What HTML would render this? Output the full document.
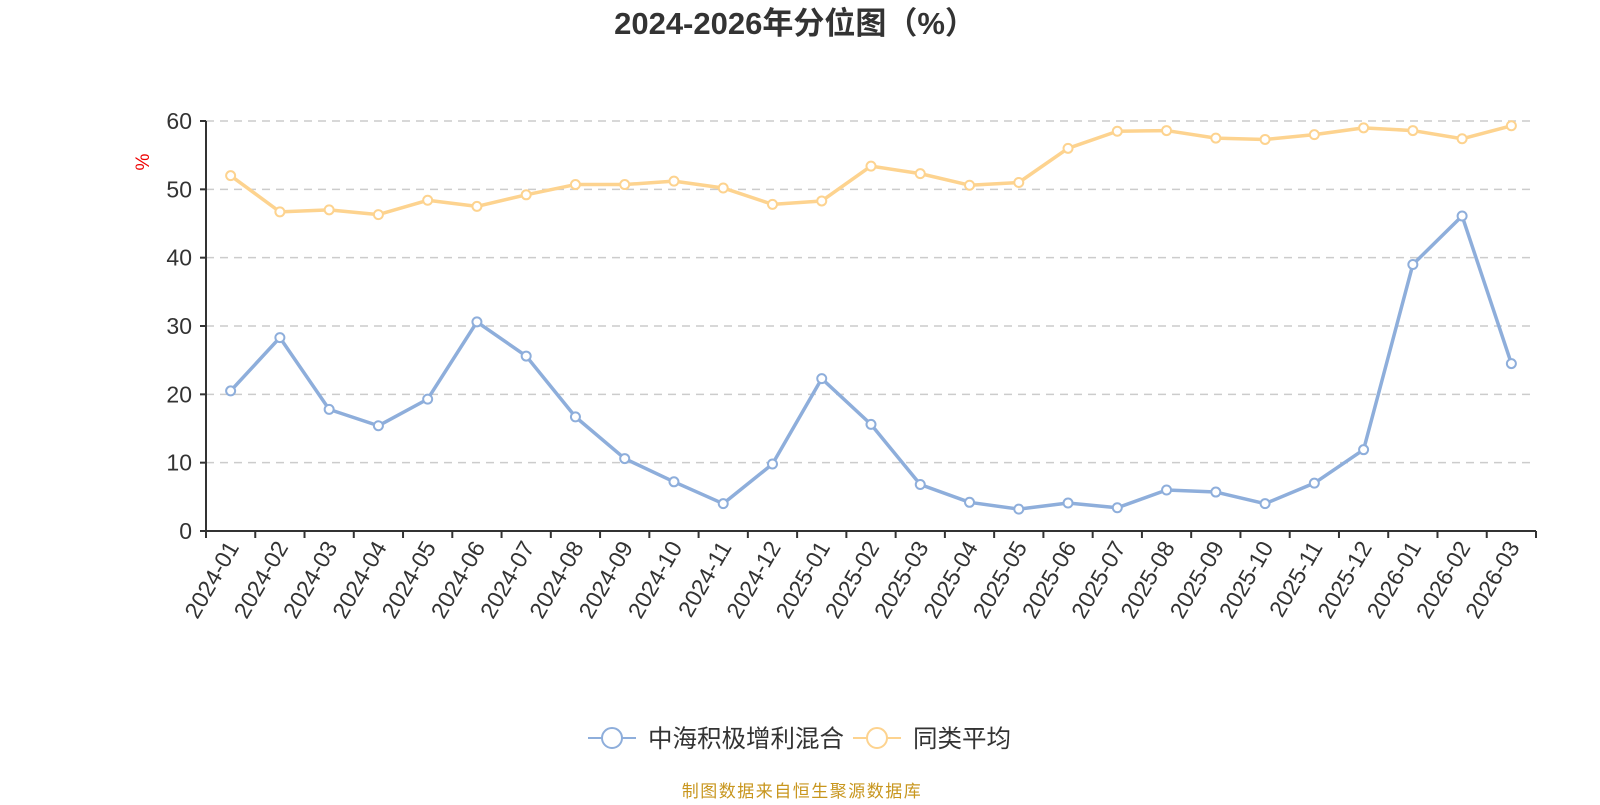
<!DOCTYPE html>
<html><head><meta charset="utf-8"><style>
body{margin:0;background:#fff;width:1600px;height:800px;overflow:hidden;font-family:"Liberation Sans","Noto Sans CJK SC",sans-serif}
</style></head><body>
<svg id="c" width="1600" height="800" xmlns="http://www.w3.org/2000/svg">
<text x="795" y="34" text-anchor="middle" font-size="31" font-weight="bold" fill="#333" font-family="Liberation Sans,Noto Sans CJK SC,sans-serif">2024-2026年分位图（%）</text>
<text transform="translate(149,162) rotate(-90)" text-anchor="middle" font-size="19" fill="#e00">%</text>
<g id="grid"></g><g id="axes"></g><g id="series"></g>
<g>
<g>
<line x1="588" y1="738" x2="636" y2="738" stroke="#8eaedb" stroke-width="2"/>
<circle cx="612" cy="738" r="10" fill="#fff" stroke="#8eaedb" stroke-width="2"/>
<text x="648" y="747" font-size="24.5" fill="#333" font-family="Liberation Sans,Noto Sans CJK SC,sans-serif">中海积极增利混合</text></g>
<g>
<line x1="853" y1="738" x2="901" y2="738" stroke="#fdd38f" stroke-width="2"/>
<circle cx="877" cy="738" r="10" fill="#fff" stroke="#fdd38f" stroke-width="2"/>
<text x="913" y="747" font-size="24.5" fill="#333" font-family="Liberation Sans,Noto Sans CJK SC,sans-serif">同类平均</text></g>
</g>
<text x="802" y="797" text-anchor="middle" font-size="17" letter-spacing="1.5" fill="#c8961e" font-family="Liberation Sans,Noto Sans CJK SC,sans-serif">制图数据来自恒生聚源数据库</text>
</svg>
<script>
const categories=["2024-01","2024-02","2024-03","2024-04","2024-05","2024-06","2024-07","2024-08","2024-09","2024-10","2024-11","2024-12","2025-01","2025-02","2025-03","2025-04","2025-05","2025-06","2025-07","2025-08","2025-09","2025-10","2025-11","2025-12","2026-01","2026-02","2026-03"];
const fundValues=[20.5,28.3,17.8,15.4,19.3,30.6,25.6,16.7,10.6,7.2,4.0,9.8,22.3,15.6,6.8,4.2,3.2,4.1,3.4,6.0,5.7,4.0,7.0,11.9,39.0,46.1,24.5];
const peerValues=[52.0,46.7,47.0,46.3,48.4,47.5,49.2,50.7,50.7,51.2,50.2,47.8,48.3,53.4,52.3,50.6,51.0,56.0,58.5,58.6,57.5,57.3,58.0,59.0,58.6,57.4,59.3];
const yTicks=[0,10,20,30,40,50,60];
const NS="http://www.w3.org/2000/svg";
const X0=206,X1=1536,Y0=531,Y60=121,YMAX=60;
const slot=(X1-X0)/categories.length;
function xs(i){return X0+slot*(i+0.5);}
function ys(v){return Y0-(v/YMAX)*(Y0-Y60);}
function mk(t,a,p){const e=document.createElementNS(NS,t);for(const k in a)e.setAttribute(k,a[k]);p.appendChild(e);return e;}
const grid=document.getElementById('grid'),axes=document.getElementById('axes'),ser=document.getElementById('series');
yTicks.forEach(v=>{
 const y=ys(v);
 if(v>0){const g=mk('line',{x1:X0,x2:X1,y1:y,y2:y,stroke:'#ccc','stroke-width':1.5,'stroke-dasharray':'8,6'},grid);
 
 }
 mk('line',{x1:X0-6,x2:X0,y1:y,y2:y,stroke:'#333','stroke-width':2},axes);
 const t=mk('text',{x:X0-14,y:y+8,'text-anchor':'end','font-size':23,fill:'#333'},axes);t.textContent=v;
 
 
});
mk('line',{x1:X0,x2:X0,y1:Y60,y2:Y0,stroke:'#333','stroke-width':2},axes);
mk('line',{x1:X0,x2:X1,y1:Y0,y2:Y0,stroke:'#333','stroke-width':2},axes);
for(let i=0;i<=categories.length;i++){const x=X0+slot*i;mk('line',{x1:x,x2:x,y1:Y0,y2:Y0+7,stroke:'#333','stroke-width':2},axes);}
categories.forEach((c,i)=>{
 const x=xs(i);
 const t=mk('text',{transform:`translate(${x+9},${Y0+16}) rotate(-60)`,'text-anchor':'end','font-size':23,fill:'#333'},axes);t.textContent=c;
 
 
});
function drawSeries(vals,color,name){
 const g=mk('g',{},ser);
 
 
 mk('polyline',{points:vals.map((v,i)=>xs(i)+','+ys(v)).join(' '),fill:'none',stroke:color,'stroke-width':3.5,'stroke-linejoin':'round'},g);
 vals.forEach((v,i)=>{const c=mk('circle',{cx:xs(i),cy:ys(v),r:4.5,fill:'#fff',stroke:color,'stroke-width':2},g);
 
 });
}
drawSeries(peerValues,'#fdd38f','peer-average');
drawSeries(fundValues,'#8eaedb','fund');
</script>
</body></html>
